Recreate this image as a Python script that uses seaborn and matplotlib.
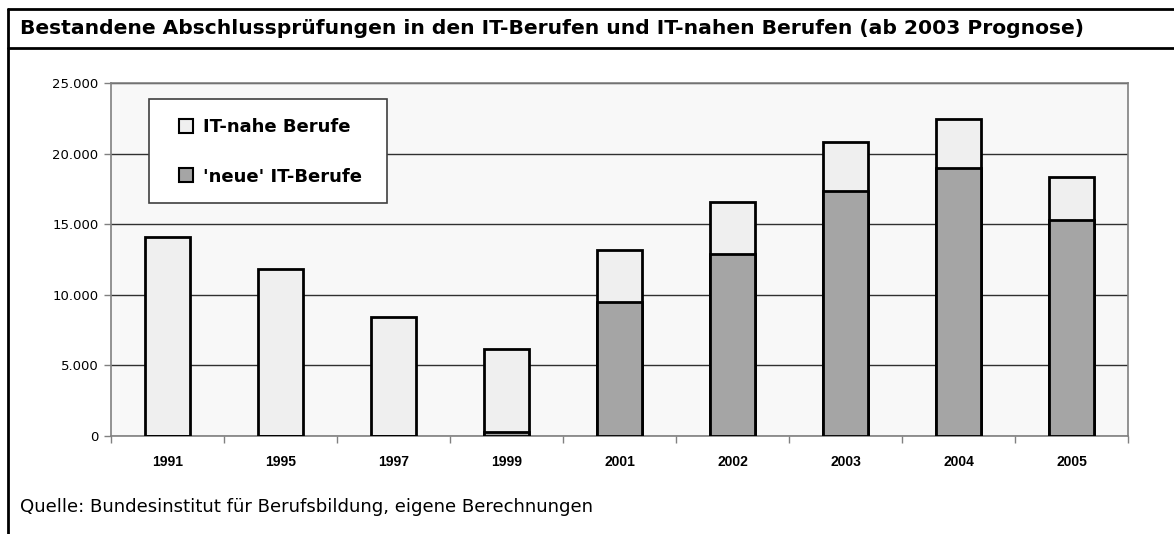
import matplotlib
matplotlib.use("Agg")
import matplotlib.pyplot as plt
import seaborn as sns
import numpy as np
import pandas as pd
from matplotlib.patches import Patch, Rectangle
from matplotlib.lines import Line2D
from matplotlib.ticker import FuncFormatter, FixedLocator

years = ['1991', '1995', '1997', '1999', '2001', '2002', '2003', '2004', '2005']
neue_it = [0, 0, 0, 250, 9500, 12900, 17350, 19000, 15300]
it_nahe = [14100, 11800, 8450, 5900, 3650, 3650, 3450, 3450, 3050]
label_nahe = 'IT-nahe Berufe'
label_neue = "'neue' IT-Berufe"
title = 'Bestandene Abschlussprüfungen in den IT-Berufen und IT-nahen Berufen (ab 2003 Prognose)'
source = 'Quelle: Bundesinstitut für Berufsbildung, eigene Berechnungen'

sns.set_theme(style='white')
plt.rcParams['font.family'] = ['Liberation Sans', 'DejaVu Sans']
plt.rcParams['text.color'] = 'black'
plt.rcParams['xtick.labelcolor'] = 'black'
plt.rcParams['ytick.labelcolor'] = 'black'
WIDE = ['DejaVu Sans', 'Liberation Sans']

df = pd.DataFrame({'year': years, 'neue': neue_it, 'nahe': it_nahe})
df['total'] = df['neue'] + df['nahe']

W, H = 1174, 534
fig = plt.figure(figsize=(W / 100, H / 100), dpi=100)
fig.patch.set_facecolor('white')
ax = fig.add_axes([111 / W, (H - 436) / H, (1128 - 111) / W, (436 - 83) / H])
ax.set_facecolor('#F8F8F8')

light = '#EFEFEF'
dark = '#A5A5A5'
sns.barplot(data=df, x='year', y='total', color=light, edgecolor='black',
            linewidth=2, width=0.4, saturation=1, ax=ax, zorder=3)
sns.barplot(data=df, x='year', y='neue', color=dark, edgecolor='black',
            linewidth=2, width=0.4, saturation=1, ax=ax, zorder=4)

ax.set_ylim(0, 25000)
ax.set_xlim(-0.5, len(years) - 0.5)
ax.set_yticks([0, 5000, 10000, 15000, 20000, 25000])
ax.yaxis.set_major_formatter(FuncFormatter(lambda v, p: f'{int(v):,}'.replace(',', '.')))
ax.yaxis.grid(True, color='#303030', linewidth=1)
ax.set_axisbelow(True)
ax.set_xlabel('')
ax.set_ylabel('')
for s in ax.spines.values():
    s.set_color('#808080')
    s.set_linewidth(1.2)
ax.tick_params(axis='y', which='major', length=5, width=1, color='#808080',
               labelcolor='black', direction='out', pad=4, left=True)
ax.tick_params(axis='x', which='major', length=0, pad=14, labelcolor='black')
ax.xaxis.set_minor_locator(FixedLocator(np.arange(-0.5, len(years), 1)))
ax.tick_params(axis='x', which='minor', length=5, width=1, color='#808080',
               direction='out', bottom=True)
for lbl in ax.get_xticklabels():
    lbl.set_fontweight('bold')
    lbl.set_fontsize(10)
for lbl in ax.get_yticklabels():
    lbl.set_family(WIDE)
    lbl.set_fontsize(9.5)

# legend box
ax.add_patch(Rectangle((149 / W, 1 - 203 / H), (387 - 149) / W, (203 - 99) / H,
                       transform=fig.transFigure, facecolor='white', edgecolor='#404040',
                       linewidth=1.2, zorder=9, clip_on=False))
handles = [Patch(facecolor=light, edgecolor='black', linewidth=1.5, label=label_nahe),
           Patch(facecolor=dark, edgecolor='black', linewidth=1.5, label=label_neue)]
leg = ax.legend(handles=handles, loc='upper left',
                bbox_to_anchor=(179 / W, 1 - 118 / H), bbox_transform=fig.transFigure,
                frameon=False,
                prop={'weight': 'bold', 'size': 13, 'family': WIDE},
                handlelength=0.8, handleheight=0.8, handletextpad=0.55,
                labelspacing=1.75, borderpad=0, borderaxespad=0, labelcolor='black')
leg.set_zorder(10)

fig.text(20 / W, 1 - 29 / H, title, fontsize=14.6, fontweight='bold', va='center', ha='left',
         family=WIDE, color='black')
fig.text(20 / W, 1 - 507 / H, source, fontsize=13.05, va='center', ha='left', family=WIDE,
         color='black')

# outer frame and title separator
fig.add_artist(Line2D([8 / W, 1.0], [1 - 9 / H, 1 - 9 / H], color='black', lw=2, transform=fig.transFigure))
fig.add_artist(Line2D([8 / W, 8 / W], [0, 1 - 9 / H], color='black', lw=2, transform=fig.transFigure))
fig.add_artist(Line2D([8 / W, 1.0], [1 - 48 / H, 1 - 48 / H], color='black', lw=2, transform=fig.transFigure))

fig.savefig('out.png', dpi=100)
